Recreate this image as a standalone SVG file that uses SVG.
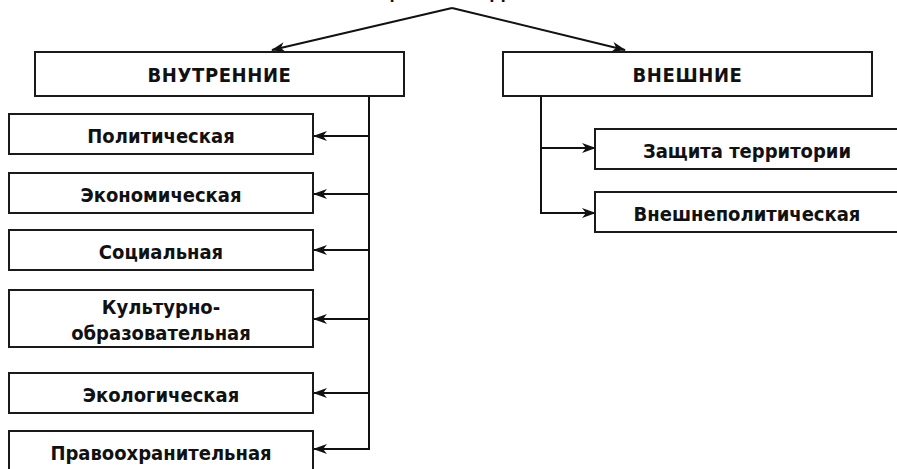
<svg xmlns="http://www.w3.org/2000/svg" width="897" height="469" viewBox="0 0 897 469">
<defs>
<style>
.box{fill:#fff;stroke:#1a1a1a;stroke-width:2}
.t{font-family:"DejaVu Sans Condensed","DejaVu Sans","Noto Sans",sans-serif;font-stretch:condensed;font-weight:bold;font-size:20px;fill:#111;text-anchor:middle;letter-spacing:0px}
.h{font-size:20px;letter-spacing:0.6px}
.c{fill:none;stroke:#111;stroke-width:2}
</style>
<marker id="arr" viewBox="0 0 14 10" refX="13" refY="5" markerWidth="14" markerHeight="10" markerUnits="userSpaceOnUse" orient="auto">
<path d="M0,0 L14,5 L0,10 L4,5 Z" fill="#111"/>
</marker>
</defs>
<rect width="897" height="469" fill="#fff"/>
<text class="t h" x="452" y="-1">ФУНКЦИИ ГОСУДАРСТВА</text>
<g id="connectors">
<path class="c" d="M452,8 L272,50" marker-end="url(#arr)"/>
<path class="c" d="M452,8 L625,50" marker-end="url(#arr)"/>
<path class="c" d="M369,97 L369,450"/>
<path class="c" d="M369,136 L314,136" marker-end="url(#arr)"/>
<path class="c" d="M369,194 L314,194" marker-end="url(#arr)"/>
<path class="c" d="M369,250 L314,250" marker-end="url(#arr)"/>
<path class="c" d="M369,319 L314,319" marker-end="url(#arr)"/>
<path class="c" d="M369,393 L314,393" marker-end="url(#arr)"/>
<path class="c" d="M370,449 L314,449" marker-end="url(#arr)"/>
<path class="c" d="M541,97 L541,213"/>
<path class="c" d="M540,148 L595,148" marker-end="url(#arr)"/>
<path class="c" d="M540,213 L595,213" marker-end="url(#arr)"/>
</g>
<g id="vnutrennie"><rect class="box" x="35" y="52" width="369" height="44"/><text class="t h" x="219.5" y="82">ВНУТРЕННИЕ</text></g>
<g id="vneshnie"><rect class="box" x="503" y="52" width="369" height="44"/><text class="t h" x="687.5" y="82">ВНЕШНИЕ</text></g>
<g id="politicheskaya"><rect class="box" x="9" y="114" width="304" height="40"/><text class="t" x="161" y="143">Политическая</text></g>
<g id="ekonomicheskaya"><rect class="box" x="9" y="173" width="304" height="40"/><text class="t" x="161" y="202">Экономическая</text></g>
<g id="socialnaya"><rect class="box" x="9" y="230" width="304" height="40"/><text class="t" x="161" y="259">Социальная</text></g>
<g id="kulturno"><rect class="box" x="9" y="290" width="304" height="57"/><text class="t" x="161" y="314">Культурно-</text><text class="t" x="161" y="339.5">образовательная</text></g>
<g id="ekologicheskaya"><rect class="box" x="9" y="373" width="304" height="40"/><text class="t" x="161" y="402">Экологическая</text></g>
<g id="pravoohranitelnaya"><rect class="box" x="9" y="431" width="304" height="40"/><text class="t" x="161" y="460">Правоохранительная</text></g>
<g id="zashchita"><rect class="box" x="595" y="129" width="304" height="40"/><text class="t" x="747" y="158">Защита территории</text></g>
<g id="vneshnepolit"><rect class="box" x="595" y="192" width="304" height="40"/><text class="t" x="747" y="221">Внешнеполитическая</text></g>
</svg>
